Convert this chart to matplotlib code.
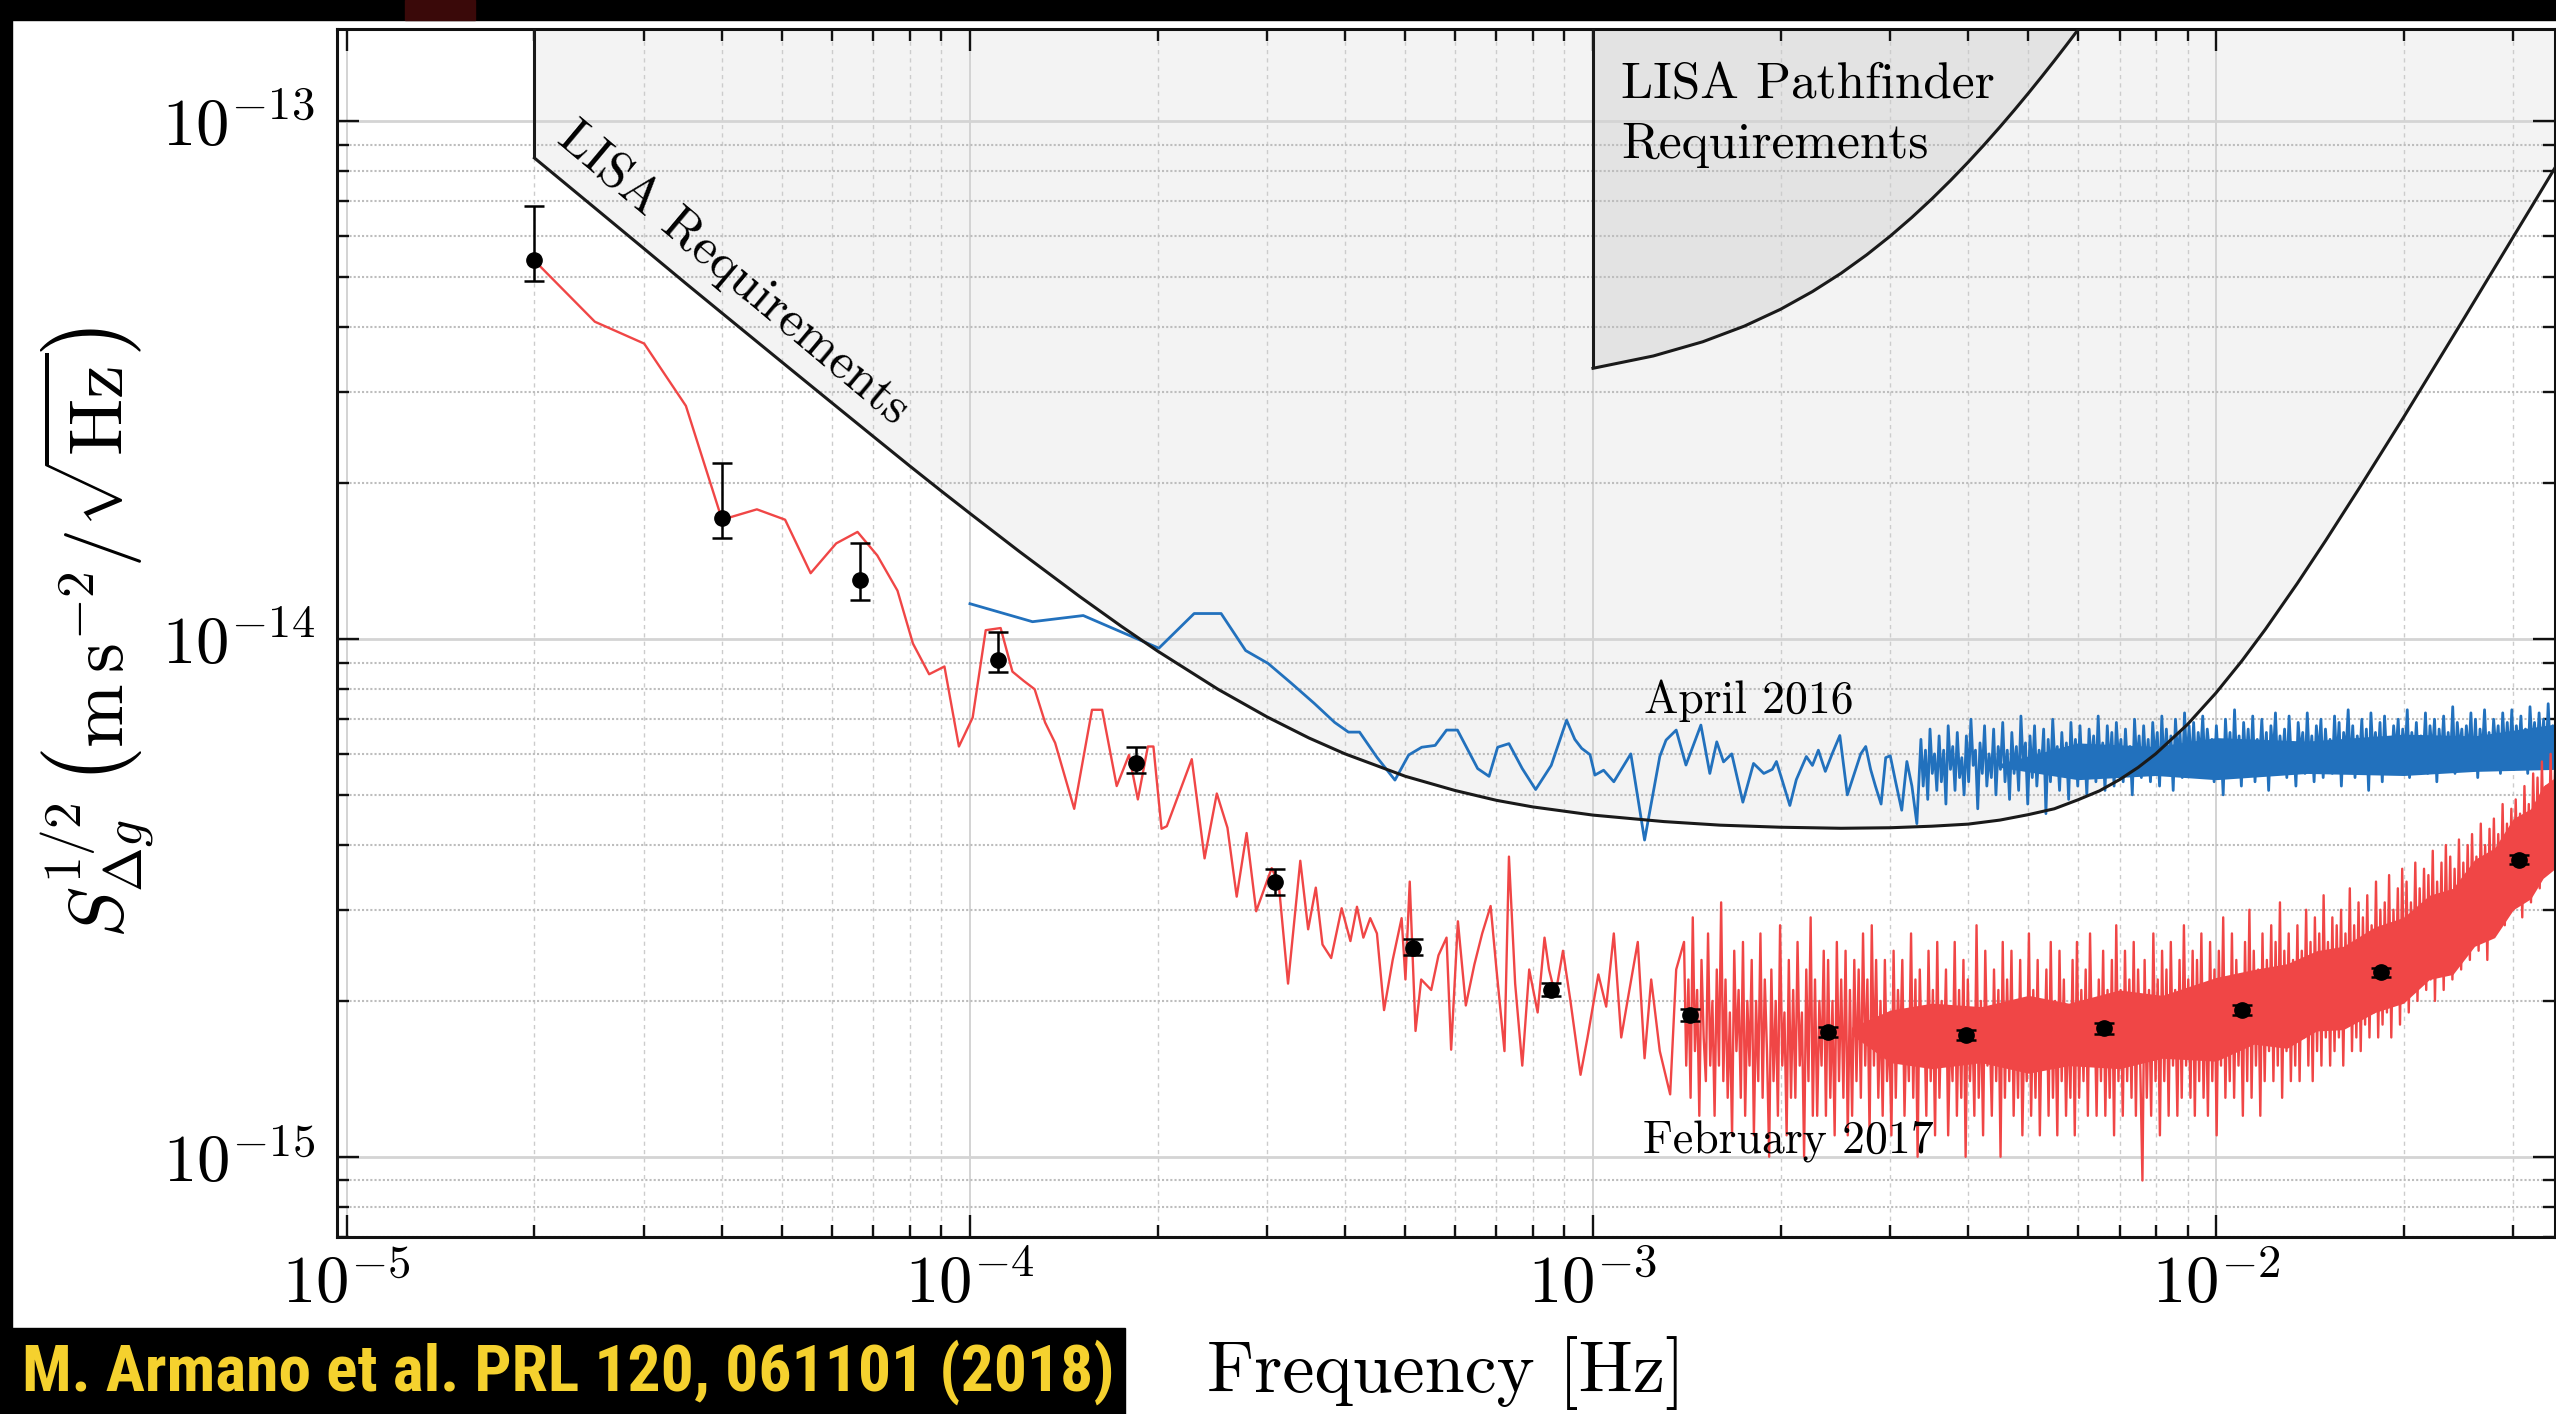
import numpy as np
import matplotlib
matplotlib.use("Agg")
import matplotlib.pyplot as plt
from matplotlib.ticker import LogLocator, FuncFormatter, NullFormatter
from matplotlib.patches import Rectangle
from matplotlib import font_manager

plt.rcParams['mathtext.fontset'] = 'cm'
plt.rcParams['font.family'] = ['cmr10', 'DejaVu Serif']
plt.rcParams['axes.formatter.use_mathtext'] = True
plt.rcParams['axes.unicode_minus'] = False

# ------------------------------------------------------------------ data
UNIT = 1e-15      # values below are in 1e-15 m s^-2 / sqrt(Hz)
TENTH = 1e-16     # dense-trace values are in 1e-16 m s^-2 / sqrt(Hz)

# LISA requirement curve
lisa_f = [2e-5, 2.5e-5, 3e-5, 3.5e-5, 4e-5, 5e-5, 6e-5, 7e-5, 8e-5, 9e-5, 1e-4, 1.2e-4,
          1.5e-4, 1.75e-4, 2e-4, 2.5e-4, 3e-4, 3.5e-4, 4e-4, 5e-4, 6e-4, 7e-4, 8e-4,
          1e-3, 1.3e-3, 1.6e-3, 2e-3, 2.5e-3, 3e-3, 3.5e-3, 4e-3, 4.5e-3, 5e-3, 5.5e-3,
          6e-3, 6.5e-3, 7e-3, 7.5e-3, 8e-3, 9e-3, 1e-2, 1.1e-2, 1.2e-2, 1.35e-2, 1.5e-2,
          1.7e-2, 2e-2, 2.25e-2, 2.5e-2, 2.75e-2, 3e-2, 3.25e-2, 3.5e-2, 3.6e-2]
lisa_v = [84.9, 68.0, 56.7, 48.6, 42.6, 34.2, 28.6, 24.6, 21.6, 19.3, 17.48, 14.76,
          12.08, 10.58, 9.48, 8.00, 7.07, 6.44, 6.00, 5.43, 5.10, 4.88, 4.74,
          4.57, 4.44, 4.37, 4.33, 4.31, 4.32, 4.35, 4.39, 4.47, 4.58, 4.70,
          4.89, 5.09, 5.35, 5.65, 6.00, 6.84, 7.87, 9.07, 10.44, 12.80, 15.50,
          19.61, 26.8, 33.8, 41.6, 50.3, 59.8, 70.1, 81.3, 85.9]

# LISA Pathfinder requirement curve
lpf_f = [1.0e-3, 1.25e-3, 1.5e-3, 1.75e-3, 2.0e-3, 2.25e-3, 2.5e-3, 2.75e-3, 3.0e-3,
         3.25e-3, 3.5e-3, 3.75e-3, 4.0e-3, 4.25e-3, 4.5e-3, 4.75e-3, 5.0e-3, 5.25e-3,
         5.5e-3, 5.75e-3, 6.0e-3, 6.25e-3]
lpf_v = [33.33, 35.21, 37.5, 40.21, 43.33, 46.88, 50.83, 55.21, 60.0,
         65.21, 70.83, 76.88, 83.33, 90.21, 97.5, 105.21, 113.33, 121.88,
         130.83, 140.21, 150.0, 160.21]

# February 2017 (red) - low-frequency part
red_f_lo = [2.00e-5, 2.50e-5, 3.00e-5, 3.50e-5, 4.00e-5, 4.55e-5, 5.05e-5, 5.55e-5, 6.10e-5,
            6.60e-5, 7.10e-5, 7.65e-5, 8.10e-5, 8.60e-5, 9.10e-5, 9.60e-5, 1.01e-4, 1.06e-4,
            1.12e-4, 1.17e-4, 1.22e-4, 1.27e-4, 1.32e-4, 1.37e-4, 1.47e-4, 1.57e-4, 1.63e-4,
            1.72e-4, 1.80e-4, 1.86e-4, 1.93e-4, 1.97e-4, 2.03e-4, 2.07e-4, 2.27e-4, 2.38e-4,
            2.49e-4, 2.59e-4, 2.68e-4, 2.78e-4, 2.88e-4, 3.05e-4, 3.13e-4, 3.24e-4, 3.39e-4,
            3.49e-4, 3.59e-4, 3.68e-4, 3.80e-4, 3.95e-4, 4.08e-4, 4.18e-4, 4.28e-4, 4.39e-4,
            4.50e-4, 4.62e-4, 4.77e-4, 4.93e-4, 5.00e-4, 5.08e-4, 5.19e-4, 5.30e-4, 5.50e-4,
            5.65e-4, 5.82e-4, 5.92e-4, 6.07e-4, 6.25e-4, 6.45e-4, 6.64e-4, 6.85e-4, 7.00e-4,
            7.21e-4, 7.33e-4, 7.50e-4, 7.70e-4, 7.90e-4, 8.15e-4, 8.36e-4, 8.50e-4, 8.70e-4,
            8.95e-4, 9.20e-4, 9.55e-4, 9.80e-4, 1.02e-3, 1.05e-3, 1.08e-3, 1.11e-3, 1.14e-3,
            1.18e-3, 1.21e-3, 1.24e-3, 1.28e-3, 1.33e-3, 1.36e-3]
red_v_lo = [53.8, 41.0, 37.2, 28.2, 17.0, 17.8, 17.0, 13.4, 15.3,
            16.1, 14.5, 12.4, 9.8, 8.55, 8.85, 6.2, 7.05, 10.4,
            10.5, 8.65, 8.3, 8.0, 6.9, 6.3, 4.7, 7.3, 7.3,
            5.2, 5.97, 4.9, 6.2, 6.2, 4.3, 4.35, 5.86, 3.77,
            5.03, 4.32, 3.18, 4.22, 2.98, 3.61, 3.37, 2.16, 3.73,
            2.75, 3.31, 2.57, 2.42, 3.02, 2.61, 3.04, 2.65, 2.89,
            2.70, 1.92, 2.40, 2.89, 2.20, 3.40, 1.75, 2.20, 2.10,
            2.45, 2.65, 1.61, 2.85, 1.96, 2.35, 2.70, 3.05, 2.30,
            1.60, 3.80, 2.16, 1.50, 2.30, 1.90, 2.65, 2.30, 2.05,
            2.50, 2.00, 1.44, 1.70, 2.25, 1.95, 2.70, 1.70, 2.05,
            2.60, 1.55, 2.20, 1.60, 1.32, 2.30]

# February 2017 (red) - dense part, 1.4 mHz .. 35 mHz (log-spaced bins), in 1e-16
red_hi_range = (1.4e-3, 3.5e-2)
red_v_hi = [
    26, 15, 22, 13, 29, 16, 21, 12, 24, 17,   14, 27, 15, 20, 12, 23, 15, 31, 14, 22,
    13, 19, 11, 25, 16, 21, 13, 26, 12, 20,   15, 24, 11, 20, 14, 27, 13, 22, 16, 10,
    23, 14, 20, 12, 28, 15, 19, 11, 24, 13,   21, 13, 26, 15, 19, 10, 23, 14, 29, 12,
    22, 12, 20, 15, 25, 12, 24, 13, 20, 11,   26, 14, 22, 13, 25, 11, 21, 12, 24, 14,
    23, 13, 27, 15, 22, 11, 28, 15, 24, 13,   20, 12, 24, 14, 18, 11, 25, 13, 21, 16,
    24, 12, 19, 14, 27, 13, 22, 10, 23, 15,   19, 12, 25, 14, 21, 11, 26, 13, 20, 15,
    23, 11, 18, 14, 26, 12, 21, 13, 24, 10,   22, 14, 19, 12, 28, 13, 20, 11, 25, 15,
    18, 12, 23, 14, 21, 10, 26, 13, 22, 14,   25, 12, 20, 13, 24, 11, 19, 14, 27, 12,
    21, 13, 24, 11, 20, 15, 23, 12, 26, 13,   20, 11, 25, 14, 22, 12, 19, 13, 24, 11,
    26, 13, 21, 14, 23, 12, 27, 15, 20, 12,   22, 14, 25, 12, 21, 13, 24, 11, 28, 14,
    21, 12, 25, 14, 22, 13, 26, 12, 23, 15,    9, 24, 13, 21, 12, 27, 14, 22, 11, 25,
    14, 23, 12, 26, 15, 21, 12, 24, 13, 28,   15, 22, 13, 25, 12, 24, 14, 27, 13, 21,
    12, 26, 14, 23, 11, 25, 15, 29, 13, 22,   14, 27, 13, 24, 15, 22, 12, 26, 14, 30,
    13, 25, 15, 23, 12, 27, 14, 24, 16, 28,   14, 26, 15, 31, 13, 25, 16, 27, 14, 24,
    15, 28, 14, 25, 17, 30, 15, 26, 14, 29,   16, 27, 15, 32, 17, 26, 15, 29, 16, 28,
    17, 30, 15, 27, 18, 33, 16, 28, 17, 31,   16, 29, 18, 32, 17, 28, 19, 34, 17, 30,
    18, 31, 19, 35, 17, 30, 20, 33, 18, 36,   20, 34, 19, 31, 21, 37, 20, 33, 22, 36,
    21, 35, 22, 39, 20, 34, 23, 37, 21, 40,   23, 38, 22, 36, 24, 41, 23, 37, 25, 40,
    24, 42, 26, 38, 25, 44, 27, 40, 24, 43,   28, 45, 27, 42, 29, 48, 28, 44, 30, 47,
    30, 49, 32, 46, 29, 52, 33, 48, 31, 55,   35, 54, 33, 58, 37, 52, 36, 60, 38, 56]
# solid core of the dense red trace (1e-15)
red_core_f = [2.6e-3, 3.0e-3, 3.5e-3, 4.2e-3, 5e-3, 5.8e-3, 7e-3, 8.2e-3, 1e-2, 1.15e-2,
              1.3e-2, 1.45e-2, 1.6e-2, 1.8e-2, 2e-2, 2.2e-2, 2.4e-2, 2.6e-2, 2.8e-2, 3.0e-2,
              3.2e-2, 3.35e-2, 3.5e-2]
red_core_hi = [1.78, 1.92, 1.98, 1.95, 2.05, 1.98, 2.10, 2.05, 2.22, 2.30,
               2.36, 2.50, 2.55, 2.78, 2.90, 3.20, 3.30, 3.75, 3.95, 4.50,
               4.70, 5.20, 5.40]
red_core_lo = [1.72, 1.52, 1.48, 1.52, 1.45, 1.50, 1.48, 1.55, 1.53, 1.65,
               1.62, 1.75, 1.76, 1.90, 1.98, 2.20, 2.25, 2.55, 2.65, 3.00,
               3.15, 3.45, 3.60]

# April 2016 (blue) - low-frequency part
blue_f_lo = [1.00e-4, 1.26e-4, 1.52e-4, 2.01e-4, 2.29e-4, 2.53e-4, 2.77e-4, 3.01e-4, 3.27e-4,
             3.57e-4, 3.85e-4, 4.05e-4, 4.22e-4, 4.50e-4, 4.81e-4, 5.06e-4, 5.31e-4, 5.58e-4,
             5.82e-4, 6.06e-4, 6.53e-4, 6.81e-4, 7.03e-4, 7.33e-4, 7.70e-4, 8.09e-4, 8.57e-4,
             9.07e-4, 9.35e-4, 9.59e-4, 9.89e-4, 1.007e-3, 1.04e-3, 1.08e-3, 1.15e-3, 1.21e-3,
             1.28e-3, 1.31e-3, 1.36e-3, 1.41e-3, 1.49e-3, 1.54e-3, 1.58e-3, 1.62e-3, 1.67e-3,
             1.74e-3, 1.81e-3, 1.88e-3, 1.94e-3, 1.97e-3, 2.07e-3, 2.12e-3, 2.20e-3, 2.25e-3,
             2.30e-3, 2.36e-3, 2.42e-3, 2.49e-3, 2.56e-3, 2.69e-3, 2.74e-3, 2.79e-3, 2.84e-3,
             2.90e-3, 2.95e-3, 3.00e-3, 3.06e-3, 3.13e-3, 3.19e-3, 3.25e-3, 3.31e-3]
blue_v_lo = [11.7, 10.8, 11.1, 9.6, 11.2, 11.2, 9.5, 8.97, 8.24,
             7.51, 6.90, 6.61, 6.61, 5.91, 5.34, 5.97, 6.18, 6.23,
             6.67, 6.67, 5.62, 5.43, 6.18, 6.28, 5.62, 5.12, 5.70,
             6.97, 6.40, 6.15, 5.98, 5.46, 5.58, 5.30, 6.00, 4.09,
             5.93, 6.38, 6.67, 5.71, 6.82, 5.50, 6.33, 5.79, 6.00,
             4.84, 5.75, 5.50, 5.60, 5.80, 4.77, 5.35, 5.93, 5.70,
             6.10, 5.55, 6.00, 6.51, 5.00, 6.00, 6.20, 5.60, 5.20,
             4.80, 5.90, 5.95, 5.30, 4.67, 5.80, 5.20, 4.40]
# April 2016 (blue) - dense part, 3.36 mHz .. 35 mHz (log-spaced bins), in 1e-16
blue_hi_range = (3.36e-3, 3.5e-2)
blue_v_hi = [
    64, 52, 61, 49, 67, 55, 60, 51, 65, 53,   61, 48, 68, 56, 62, 51, 66, 54, 59, 50,
    65, 53, 70, 57, 61, 47, 63, 55, 68, 52,   60, 54, 67, 50, 62, 56, 69, 53, 61, 49,
    66, 55, 62, 51, 71, 57, 63, 48, 65, 54,   68, 52, 61, 56, 67, 46, 64, 53, 70, 57,
    62, 51, 66, 55, 63, 49, 69, 56, 64, 52,   68, 54, 62, 50, 67, 57, 65, 53, 71, 55,
    63, 51, 68, 56, 66, 52, 69, 58, 64, 53,   67, 55, 62, 50, 70, 57, 65, 54, 68, 56,
    64, 53, 69, 58, 66, 52, 71, 56, 67, 55,   65, 51, 70, 59, 66, 54, 72, 57, 68, 56,
    69, 55, 66, 59, 71, 56, 67, 60, 64, 53,   68, 57, 63, 50, 70, 58, 66, 54, 73, 56,
    65, 52, 69, 57, 67, 55, 71, 53, 64, 58,   70, 56, 66, 51, 68, 59, 72, 55, 65, 57,
    67, 54, 71, 58, 63, 52, 69, 60, 66, 55,   72, 57, 65, 53, 68, 59, 70, 54, 67, 58,
    64, 55, 71, 57, 69, 52, 66, 60, 73, 56,   68, 54, 65, 58, 70, 55, 67, 51, 72, 59,
    66, 57, 69, 53, 71, 58, 64, 56, 68, 60,   70, 55, 67, 59, 73, 54, 66, 57, 69, 56,
    65, 58, 72, 55, 68, 60, 70, 53, 67, 59,   71, 56, 66, 58, 74, 55, 69, 61, 67, 57,
    68, 59, 72, 56, 70, 54, 67, 60, 73, 58,   66, 57, 70, 61, 68, 55, 72, 59, 69, 58,
    73, 56, 68, 60, 71, 58, 67, 55, 74, 61,   69, 58, 72, 60, 70, 57, 75, 59, 68, 62]
# solid core of the dense blue trace (1e-15)
blue_core_f = [4.5e-3, 6e-3, 8e-3, 1e-2, 1.4e-2, 2e-2, 2.6e-2, 3.5e-2]
blue_core_hi = [5.75, 6.30, 6.20, 6.45, 6.35, 6.55, 6.50, 6.85]
blue_core_lo = [5.65, 5.35, 5.45, 5.35, 5.50, 5.45, 5.55, 5.60]

# binned averages with error bars
pts_f = [2.0e-5, 4.0e-5, 6.67e-5, 1.11e-4, 1.85e-4, 3.09e-4, 5.14e-4, 8.57e-4, 1.43e-3,
         2.38e-3, 3.97e-3, 6.61e-3, 1.10e-2, 1.84e-2, 3.06e-2]
pts_v = [53.9, 17.1, 13.0, 9.1, 5.75, 3.39, 2.53, 2.10, 1.88, 1.74, 1.72, 1.77, 1.92, 2.27, 3.75]
pts_err_hi = [14.7, 4.8, 2.3, 1.2, 0.45, 0.20, 0.10, 0.07, 0.05, 0.04, 0.04, 0.04, 0.04, 0.05, 0.08]
pts_err_lo = [4.8, 1.4, 1.1, 0.45, 0.25, 0.18, 0.08, 0.06, 0.05, 0.04, 0.04, 0.04, 0.04, 0.05, 0.08]

x_range = (9.64e-6, 3.5e-2)
y_range = (7.0e-16, 1.507e-13)

# ------------------------------------------------------------------ figure
W, H = 2556, 1414
fig = plt.figure(figsize=(W / 100, H / 100), dpi=100, facecolor='white')
ax = fig.add_axes([337 / W, (H - 1237) / H, (2555 - 337) / W, (1237 - 29) / H])

def arr(v, unit=UNIT):
    return np.asarray(v, dtype=float) * unit

TOP = 1e-12
# shaded requirement regions
ax.fill_between(lisa_f, arr(lisa_v), TOP, color='#f3f3f3', lw=0, zorder=0.2)
ax.fill_between(lpf_f, arr(lpf_v), TOP, color='#e3e3e3', lw=0, zorder=0.3)
ax.plot(lisa_f, arr(lisa_v), color='#1a1a1a', lw=2.2, zorder=3)
ax.vlines(lisa_f[0], arr(lisa_v)[0], TOP, color='#1a1a1a', lw=2.2, zorder=3)
ax.plot(lpf_f, arr(lpf_v), color='#1a1a1a', lw=2.2, zorder=3)
ax.vlines(lpf_f[0], arr(lpf_v)[0], TOP, color='#1a1a1a', lw=2.2, zorder=3)

BLUE = '#2271bd'
RED = '#f04646'

# April 2016 (blue)
blue_f_hi = np.geomspace(blue_hi_range[0], blue_hi_range[1], len(blue_v_hi))
blue_f = np.concatenate([blue_f_lo, blue_f_hi])
blue_v = np.concatenate([arr(blue_v_lo), arr(blue_v_hi, TENTH)])
ax.fill_between(blue_core_f, arr(blue_core_lo), arr(blue_core_hi), color=BLUE, lw=0, zorder=1.9)
ax.plot(blue_f, blue_v, color=BLUE, lw=2.0, zorder=2)

# February 2017 (red)
red_f_hi = np.geomspace(red_hi_range[0], red_hi_range[1], len(red_v_hi))
red_f = np.concatenate([red_f_lo, red_f_hi])
red_v = np.concatenate([arr(red_v_lo), arr(red_v_hi, TENTH)])
ax.fill_between(red_core_f, arr(red_core_lo), arr(red_core_hi), color=RED, lw=0, zorder=2.1)
ax.plot(red_f, red_v, color=RED, lw=1.7, zorder=2.2)

# binned points
ax.errorbar(pts_f, arr(pts_v), yerr=[arr(pts_err_lo), arr(pts_err_hi)], fmt='o',
            color='black', ms=11, elinewidth=1.8, capsize=7, capthick=1.8, zorder=4)

ax.set_xscale('log')
ax.set_yscale('log')
ax.set_xlim(*x_range)
ax.set_ylim(*y_range)

fmt = FuncFormatter(lambda v, p: r'$10^{%d}$' % int(round(np.log10(v))))
for a in (ax.xaxis, ax.yaxis):
    a.set_major_locator(LogLocator(base=10, numticks=20))
    a.set_minor_locator(LogLocator(base=10, subs=np.arange(2, 10), numticks=200))
    a.set_major_formatter(fmt)
    a.set_minor_formatter(NullFormatter())

ax.set_axisbelow(True)
ax.grid(which='major', axis='y', color='#d4d4d4', lw=2.0, ls='-')
ax.grid(which='minor', axis='y', color='#bdbdbd', lw=1.5, ls=(0, (1, 1)))
ax.grid(which='major', axis='x', color='#d0d0d0', lw=1.3, ls='-')
ax.grid(which='minor', axis='x', color='#cccccc', lw=1.0, ls=(0, (3, 3)))

ax.tick_params(which='both', direction='in', top=True, right=True, color='#111111')
ax.tick_params(which='major', length=16, width=1.7)
ax.tick_params(which='minor', length=8.5, width=1.7)
ax.tick_params(axis='x', which='major', labelsize=48, pad=12)
ax.tick_params(axis='y', which='major', labelsize=48, pad=16)
for s in ax.spines.values():
    s.set_linewidth(2.2)
    s.set_color('#111111')

ax.set_xlabel('Frequency [Hz]', fontsize=52)
ax.xaxis.set_label_coords(0.5, -0.082)
ax.set_ylabel(r'$S_{\Delta g}^{1/2}\,\left(\mathrm{m\,s}^{-2}/\sqrt{\mathrm{Hz}}\right)$', fontsize=55)
ax.yaxis.set_label_coords(-0.081, 0.5)

# annotations
ax.text(4.17e-5, 5.08e-14, 'LISA Requirements', fontsize=37, rotation=-40,
        rotation_mode='anchor', ha='center', va='center', zorder=5)
ax.text(1.11e-3, 1.30e-13, 'LISA Pathfinder\nRequirements', fontsize=37, ha='left', va='top',
        linespacing=1.38, zorder=5)
ax.text(1.778e-3, 7.59e-15, 'April 2016', fontsize=33, ha='center', va='center', zorder=5)
ax.text(2.056e-3, 1.07e-15, 'February 2017', fontsize=33, ha='center', va='center', zorder=5)

# slide framing (black borders and citation box)
fig.patches.append(Rectangle((0, 1 - 20 / H), 1, 20 / H, transform=fig.transFigure,
                             color='black', zorder=10))
fig.patches.append(Rectangle((405 / W, 1 - 20 / H), 70 / W, 20 / H, transform=fig.transFigure,
                             color='#3a0909', zorder=11))
fig.patches.append(Rectangle((0, 0), 12 / W, 1, transform=fig.transFigure,
                             color='black', zorder=10))
fig.patches.append(Rectangle((0, 0), 1125 / W, 86 / H, transform=fig.transFigure,
                             color='black', zorder=10))

names = {f.name for f in font_manager.fontManager.ttflist}
cite_family = 'DejaVu Sans'
for cand in ['Liberation Sans Narrow', 'Roboto Condensed', 'Open Sans Condensed',
             'DejaVu Sans Condensed', 'Liberation Sans', 'Roboto']:
    if cand in names:
        cite_family = cand
        break
cite = fig.text(22 / W, (H - 1372) / H, 'M. Armano et al. PRL 120, 061101 (2018)', color='#f5d12e',
                fontsize=46, fontweight='bold', family=[cite_family, 'DejaVu Sans'],
                ha='left', va='center', zorder=12)
fig.canvas.draw()
wpx = cite.get_window_extent().width
if wpx > 0:
    cite.set_fontsize(46 * 1090.0 / wpx)

fig.savefig('out.png', dpi=100, facecolor='white')
